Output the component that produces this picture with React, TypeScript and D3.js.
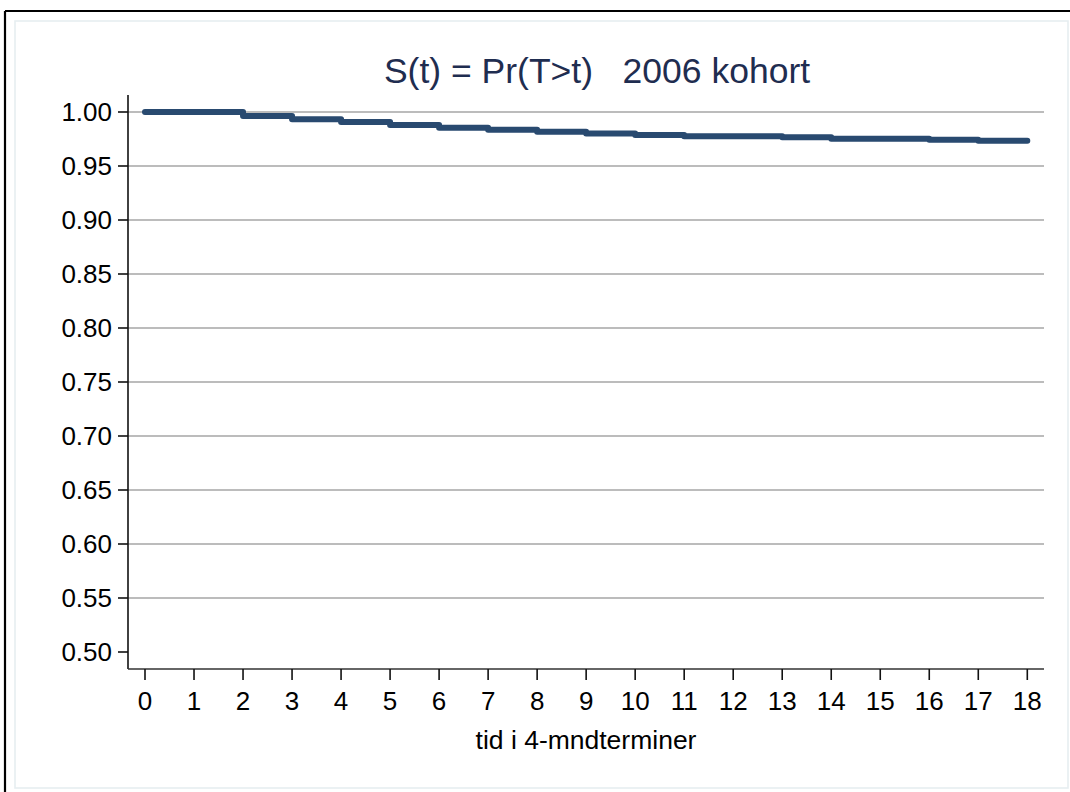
import React from "react";
import * as d3 from "d3";

const times = [0, 2, 3, 4, 5, 6, 7, 8, 9, 10, 11, 13, 14, 16, 17, 18];
const survival = [1.0, 0.9963, 0.9932, 0.9907, 0.988, 0.9855, 0.9836, 0.9818, 0.9802, 0.9787, 0.9775, 0.9766, 0.9753, 0.9744, 0.9734, 0.9734];
const xTicks = d3.range(0, 19);
const yTicks = [0.5, 0.55, 0.6, 0.65, 0.7, 0.75, 0.8, 0.85, 0.9, 0.95, 1.0];
const titleText = "S(t) = Pr(T>t)\u00a0\u00a0\u00a02006 kohort";
const xLabel = "tid i 4-mndterminer";

const W = 1070;
const H = 792;
const FONT = "'Liberation Sans', Arial, Helvetica, sans-serif";

export default function App() {
  const x = d3.scaleLinear().domain([0, 18]).range([145, 1027.3]);
  const y = d3.scaleLinear().domain([0.5, 1.0]).range([652, 112]);
  const axisX = 128;
  const axisY = 669;
  const plotRight = 1044;
  const axisTop = 95;

  const pts = times.map((t, i) => [t, survival[i]] as [number, number]);
  const line = d3
    .line<[number, number]>()
    .x((d) => x(d[0]))
    .y((d) => y(d[1]))
    .curve(d3.curveStepAfter);

  return (
    <svg
      width={W}
      height={H}
      style={{ position: "absolute", left: 0, top: 0, background: "#fff" }}
      fontFamily={FONT}
    >
      <rect x={0} y={0} width={W} height={H} fill="#ffffff" />
      {/* outer black frame (top & left) */}
      <line x1={5} y1={11} x2={W} y2={11} stroke="#000" strokeWidth={2.2} />
      <line x1={5} y1={11} x2={5} y2={H} stroke="#000" strokeWidth={2.2} />
      {/* inner light region border */}
      <rect x={15} y={21} width={1053} height={767} fill="#ffffff" stroke="#e6eef1" strokeWidth={1.6} />

      {/* gridlines */}
      {yTicks
        .filter((v) => v > 0.5)
        .map((v) => (
          <line key={"g" + v} x1={axisX} x2={plotRight} y1={y(v)} y2={y(v)} stroke="#a6a6a6" strokeWidth={1.6} />
        ))}

      {/* y axis */}
      <line x1={axisX} x2={axisX} y1={axisTop} y2={axisY} stroke="#111" strokeWidth={1.6} />
      {yTicks.map((v) => (
        <g key={"y" + v}>
          <line x1={axisX - 10} x2={axisX} y1={y(v)} y2={y(v)} stroke="#111" strokeWidth={1.6} />
          <text x={axisX - 16} y={y(v)} dy="0.36em" textAnchor="end" fontSize={26} fill="#000">
            {v.toFixed(2)}
          </text>
        </g>
      ))}

      {/* x axis */}
      <line x1={axisX} x2={plotRight} y1={axisY} y2={axisY} stroke="#333" strokeWidth={1.6} />
      {xTicks.map((t) => (
        <g key={"x" + t}>
          <line x1={x(t)} x2={x(t)} y1={axisY} y2={axisY + 11} stroke="#111" strokeWidth={1.6} />
          <text x={x(t)} y={710} textAnchor="middle" fontSize={26} fill="#000">
            {t}
          </text>
        </g>
      ))}
      <text x={(axisX + plotRight) / 2} y={749} textAnchor="middle" fontSize={26.5} fill="#000">
        {xLabel}
      </text>

      {/* title */}
      <text x={597} y={83} textAnchor="middle" fontSize={35.5} fill="#1f2d50">
        {titleText}
      </text>

      {/* survival step line */}
      <path
        d={line(pts) || ""}
        fill="none"
        stroke="#294a70"
        strokeWidth={6}
        strokeLinecap="round"
        strokeLinejoin="round"
      />
    </svg>
  );
}
